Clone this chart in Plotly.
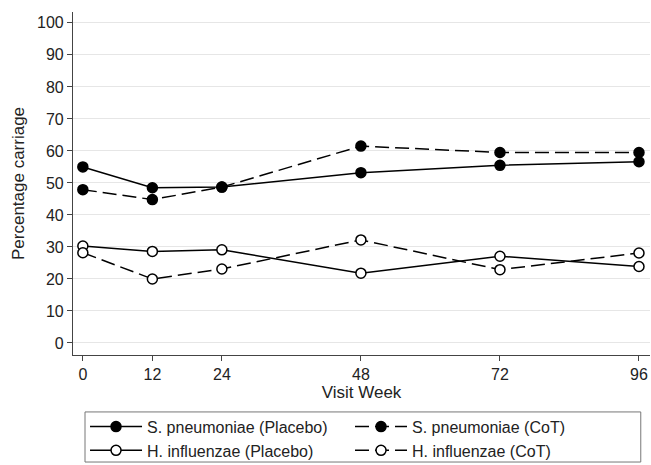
import plotly.graph_objects as go

weeks = [0, 12, 24, 48, 72, 96]
sp_placebo = [55.0, 48.5, 48.7, 53.2, 55.5, 56.6]
sp_cot = [47.9, 44.8, 48.7, 61.5, 59.5, 59.5]
hi_placebo = [30.3, 28.6, 29.1, 21.8, 27.1, 23.9]
hi_cot = [28.2, 20.0, 23.1, 32.2, 22.9, 28.1]

series = [
    ("S. pneumoniae (Placebo)", sp_placebo, "solid", "black"),
    ("S. pneumoniae (CoT)", sp_cot, "14px,6px", "black"),
    ("H. influenzae (Placebo)", hi_placebo, "solid", "white"),
    ("H. influenzae (CoT)", hi_cot, "14px,6px", "white"),
]

fig = go.Figure()
for name, vals, dash, fill in series:
    fig.add_trace(go.Scatter(
        x=weeks, y=vals, name=name, mode="lines+markers",
        line=dict(color="black", width=1.5, dash=dash),
        marker=dict(size=10, color=fill, line=dict(color="black", width=1.5)),
    ))

font = "Liberation Sans, Arial, sans-serif"
fig.update_layout(
    width=651, height=465,
    margin=dict(l=73, r=1, t=12, b=110, autoexpand=False),
    paper_bgcolor="white", plot_bgcolor="white",
    font=dict(family=font, size=16, color="#222"),
    showlegend=True,
    legend=dict(
        orientation="h", xref="container", yref="container",
        x=0.1306, xanchor="left", y=0.119, yanchor="top",
        itemwidth=52,
        entrywidth=198, entrywidthmode="pixels",
        borderwidth=0, bgcolor="rgba(0,0,0,0)",
        font=dict(size=16, color="#222"),
        traceorder="normal",
    ),
    shapes=[dict(
        type="rect", xref="paper", yref="paper",
        x0=0.0208, x1=0.984, y0=-0.312, y1=-0.166,
        line=dict(color="#777", width=1), fillcolor="rgba(0,0,0,0)", layer="below",
    )],
    xaxis=dict(
        range=[-1.7, 97.9], tickvals=weeks, ticks="outside", ticklen=5,
        tickcolor="#444", showline=True, linecolor="#444", linewidth=1.2,
        showgrid=False, zeroline=False, automargin=False,
        title=dict(text="Visit Week", standoff=2, font=dict(size=17)),
    ),
    yaxis=dict(
        range=[-3.76, 103.4], tickvals=list(range(0, 101, 10)), ticks="outside",
        ticklen=5, tickcolor="#444", showline=True, linecolor="#444", linewidth=1.2,
        showgrid=True, gridcolor="#e6e6e6", gridwidth=1, zeroline=False, automargin=False,
        title=dict(text="Percentage carriage", standoff=8, font=dict(size=17)),
    ),
)

fig.write_html("out.html", config={"displayModeBar": False},
               post_script="document.body.style.margin='0';document.body.style.padding='0';")
